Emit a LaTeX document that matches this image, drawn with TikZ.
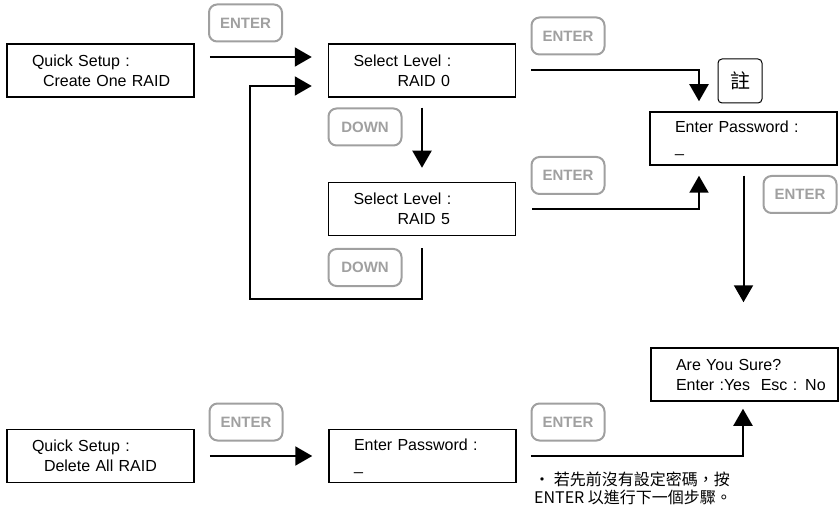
\documentclass[tikz,border=0pt]{standalone}
\usepackage{fontspec}
\setmainfont{Liberation Sans}
\newfontfamily\cjk{Noto Sans CJK TC}
\usetikzlibrary{arrows.meta}
\definecolor{keygray}{RGB}{160,160,160}
\tikzset{
  screen/.style={draw, line width=1.5pt, text width=137pt, inner xsep=25pt, inner ysep=0pt,
    minimum height=53pt, align=left, font=\fontsize{16}{20}\selectfont},
  key/.style={draw=keygray, text=keygray, line width=2pt, rounded corners=8pt,
    minimum width=73pt, minimum height=37pt, inner sep=0pt, font=\fontsize{15}{15}\selectfont\bfseries},
  notekey/.style={draw, line width=1pt, rounded corners=4pt, minimum size=44pt, inner sep=0pt,
    font=\cjk\fontsize{20}{20}\selectfont},
  arr/.style={line width=2pt, -{Triangle[width=19pt,length=17pt]}}
}
\begin{document}
\begin{tikzpicture}[x=1pt,y=-1pt]
\useasboundingbox (0,0) rectangle (839,508);

\node[screen] (qs1) at (100.5,70.5) {Quick Setup :\\\hspace*{11pt}\mbox{Create One RAID}};
\node[screen] (sel0) at (422,70.5) {Select Level :\\\hspace*{44pt}RAID 0};
\node[screen] (sel5) at (422,209) {Select Level :\\\hspace*{44pt}RAID 5};
\node[screen] (pw1) at (743.5,138.5) {Enter Password :\\\_};
\node[screen] (sure) at (744.5,374.5) {Are You Sure?\\\mbox{Enter :Yes\ \ Esc : No}};
\node[screen] (qs2) at (100.5,456) {Quick Setup :\\\hspace*{12pt}\mbox{Delete All RAID}};
\node[screen] (pw2) at (422.5,456) {Enter Password :\\\_};

\node[key] (k1) at (245.5,23) {ENTER};
\node[key] (k2) at (568,36) {ENTER};
\node[key] (d1) at (365,127) {DOWN};
\node[key] (k3) at (568,175.5) {ENTER};
\node[key] (d2) at (365,267.5) {DOWN};
\node[key] (k4) at (800,194.5) {ENTER};
\node[key] (k5) at (246,422) {ENTER};
\node[key] (k6) at (568,422) {ENTER};
\node[notekey] (note) at (740,81) {註};

\draw[arr, shorten <=15pt, shorten >=16pt] ([yshift=13.5pt]qs1.east) -- ([yshift=13.5pt]sel0.west);
\coordinate (loop) at (250,299);
\draw[arr, shorten <=12pt, shorten >=16pt] (sel5.south) |- (loop) |- ([yshift=-15.5pt]sel0.west);
\draw[arr, shorten <=10pt, shorten >=14pt] (sel0.south) -- (sel5.north);
\draw[arr, shorten <=15pt, shorten >=10pt] (sel0.east) -| ([xshift=-44.5pt]pw1.north);
\draw[arr, shorten <=16pt, shorten >=10pt] (sel5.east) -| ([xshift=-44.5pt]pw1.south);
\draw[arr, shorten <=10pt, shorten >=45pt] (pw1.south) -- (pw1.south |- sure.north);
\draw[arr, shorten <=15pt, shorten >=16pt] (qs2.east) -- (pw2.west);
\draw[arr, shorten <=14pt, shorten >=7pt] (pw2.east) -| ([xshift=-1.5pt]sure.south);

\node[anchor=north west, align=left, inner sep=0pt, font=\cjk\fontsize{16}{18}\selectfont] (hint)
  at (534,472) {• 若先前沒有設定密碼，按\\ENTER 以進行下一個步驟。};
\end{tikzpicture}
\end{document}
